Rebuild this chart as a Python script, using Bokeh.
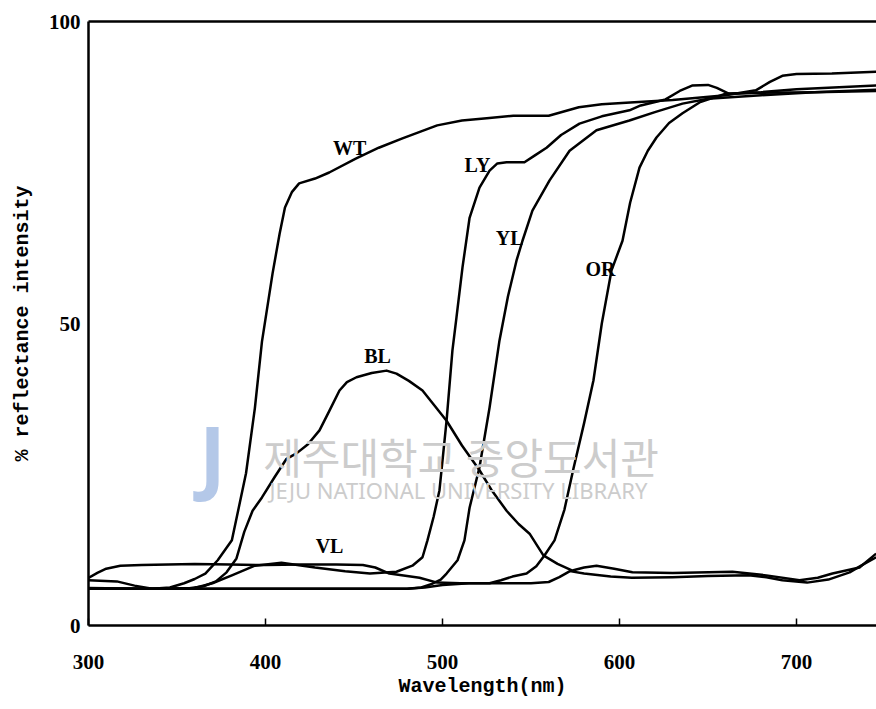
from bokeh.plotting import figure
from bokeh.models import Range1d, LinearAxis, FixedTicker, Label
from bokeh.embed import file_html
from bokeh.resources import INLINE
from bokeh.core.properties import value

# ---- data ----
wt_x = [300, 316, 326, 336, 346, 354, 360, 366, 373, 381, 389, 394, 398, 404, 408, 411, 415, 419,
        428, 436, 451, 464, 477, 497, 511, 525, 540, 560, 577, 590, 606, 630, 660, 677, 685, 692,
        700, 720, 745]
wt_y = [7.5, 7.3, 6.6, 6.1, 6.3, 7.0, 7.7, 8.6, 10.8, 14.1, 25.2, 36.0, 47.0, 58.3, 64.9, 69.2, 71.8, 73.2,
        74.0, 75.0, 77.3, 79.1, 80.6, 82.8, 83.6, 84.0, 84.4, 84.4, 85.8, 86.3, 86.6, 87.0, 87.8, 88.6, 90.0, 91.0,
        91.3, 91.4, 91.7]

bl_x = [300, 330, 355, 365, 372, 378, 383.6, 388, 392.7, 398, 405, 411.9, 417.5, 424, 430.5, 436,
        441.8, 446, 451.4, 460, 468.4, 474, 481, 488.7, 495, 502.3, 511, 520.9, 528, 536.2, 543,
        549.2, 557, 565, 573.4, 580, 587, 597, 607.3, 630, 663.8, 683, 701.7, 712, 720.3, 735.6, 745]
bl_y = [6.2, 6.1, 6.1, 6.5, 7.3, 8.8, 11.1, 15.5, 19.0, 21.2, 24.5, 27.6, 28.5, 30.0, 32.3, 35.5,
        38.9, 40.3, 41.1, 41.8, 42.2, 41.7, 40.5, 38.9, 36.6, 33.9, 29.8, 25.7, 22.3, 19.0, 16.8,
        15.2, 11.6, 10.2, 9.1, 9.6, 9.9, 9.4, 8.8, 8.7, 8.9, 8.3, 7.5, 7.9, 8.6, 9.6, 11.9]

vl_x = [300, 305, 310, 318, 330, 345, 360, 380, 400, 420, 440, 455, 462, 470, 480, 487, 497, 510,
        530, 550, 560, 566, 572, 580, 595, 607, 630, 650, 673, 683, 692, 706, 718, 730, 737, 745]
vl_y = [7.9, 8.7, 9.4, 9.9, 10.0, 10.1, 10.2, 10.1, 10.0, 10.1, 10.1, 10.0, 9.6, 8.6, 8.2, 7.9, 7.1, 7.0,
        7.0, 7.0, 7.2, 8.0, 9.0, 8.6, 8.1, 7.9, 8.0, 8.2, 8.3, 8.0, 7.5, 7.1, 7.6, 8.8, 10.0, 11.3]

ly_x = [300, 340, 360, 370, 381, 394, 409, 428, 445, 459, 474, 483, 488.7, 491.5, 495, 498.3, 502.3,
        505.6, 507.9, 511.3, 515.3, 520.9, 526.6, 531, 536.2, 546.3, 552, 558.8, 567, 577.4, 590,
        605.6, 612, 626, 634, 641, 650, 655, 662, 680, 700, 745]
ly_y = [6.1, 6.1, 6.2, 7.0, 8.3, 9.9, 10.4, 9.6, 9.0, 8.6, 8.9, 9.9, 11.3, 14.1, 18.0, 22.4, 33.9,
        45.5, 51.0, 59.3, 67.5, 72.5, 75.3, 76.5, 76.7, 76.7, 77.8, 79.1, 81.2, 83.1, 84.3,
        85.3, 86.1, 87.1, 88.5, 89.4, 89.5, 89.0, 88.0, 88.3, 88.8, 89.4]

yl_x = [300, 340, 400, 450, 480, 488, 494, 499, 502.3, 508.5, 512.4, 515.3, 520.9, 526.6, 532.2,
        537, 541.8, 545.2, 550.8, 560.5, 571.8, 587, 605.6, 620, 635.6, 650, 680, 710, 745]
yl_y = [6.1, 6.1, 6.1, 6.1, 6.1, 6.3, 6.9, 7.6, 8.6, 10.8, 14.1, 19.5, 26.2, 36.1, 47.2,
        54.5, 60.4, 63.7, 68.7, 73.7, 78.6, 82.0, 83.6, 85.0, 86.4, 87.2, 87.8, 88.3, 88.7]

or_x = [300, 400, 480, 490, 500, 515, 526.6, 533, 539.5, 547.5, 553, 557.6, 563.3, 568.9, 574, 580,
        585.3, 590, 595.5, 601.7, 606, 611.3, 616, 620.9, 628, 635.6, 645.2, 660.5, 680, 710, 745]
or_y = [6.1, 6.1, 6.1, 6.3, 6.7, 7.0, 7.0, 7.5, 8.1, 8.6, 9.8, 11.6, 14.1, 19.2, 26.0, 33.5,
        40.6, 50.0, 58.8, 63.7, 70.0, 75.8, 78.6, 80.8, 83.2, 84.8, 86.6, 88.1, 88.2, 88.3, 88.5]

curve_names = ["WT", "LY", "YL", "OR", "BL", "VL"]
name_x = [447.5, 519.8, 537.9, 589.3, 463.3, 436.2]
name_y = [79.1, 76.2, 64.2, 59.1, 44.7, 13.2]

x_ticks = [300, 400, 500, 600, 700]
y_ticks = [0, 50, 100]

# ---- figure ----
p = figure(width=876, height=709,
           x_range=Range1d(300, 745.2), y_range=Range1d(0, 100),
           output_backend="svg", toolbar_location=None,
           min_border_left=88, min_border_right=0,
           min_border_top=21, min_border_bottom=84)
p.outline_line_color = None
p.xgrid.visible = False
p.ygrid.visible = False
p.background_fill_color = "white"

tick_font = "Liberation Serif"
mono = "Liberation Mono"

xa = p.xaxis[0]
xa.ticker = FixedTicker(ticks=x_ticks)
xa.major_tick_in = 7
xa.major_tick_out = 0
xa.minor_tick_in = 0
xa.minor_tick_out = 0
xa.axis_line_width = 2.5
xa.major_tick_line_width = 1.5
xa.major_label_text_font = tick_font
xa.major_label_text_font_style = "bold"
xa.major_label_text_font_size = "21px"
xa.major_label_text_color = "black"
xa.major_label_standoff = 29
xa.axis_label = "Wavelength(nm)"
xa.axis_label_text_font = mono
xa.axis_label_text_font_style = "bold"
xa.axis_label_text_font_size = "20px"
xa.axis_label_text_color = "black"
xa.axis_label_standoff = 3

ya = p.yaxis[0]
ya.ticker = FixedTicker(ticks=y_ticks)
ya.major_tick_in = 0
ya.major_tick_out = 0
ya.minor_tick_in = 0
ya.minor_tick_out = 0
ya.axis_line_width = 2.5
ya.major_label_text_font = tick_font
ya.major_label_text_font_style = "bold"
ya.major_label_text_font_size = "21px"
ya.major_label_text_color = "black"
ya.major_label_standoff = 8
ya.axis_label = "% reflectance intensity"
ya.axis_label_text_font = mono
ya.axis_label_text_font_style = "bold"
ya.axis_label_text_font_size = "20px"
ya.axis_label_text_color = "black"
ya.axis_label_standoff = 12

top = LinearAxis(ticker=FixedTicker(ticks=[]), major_label_text_font_size="0px",
                 major_tick_in=0, major_tick_out=0, minor_tick_in=0, minor_tick_out=0,
                 axis_line_width=2.5)
p.add_layout(top, "above")

# watermark
p.add_layout(Label(x=370, y=28.5, text="J", text_font="Noto Sans", text_font_style="bold",
                   text_font_size="80px", text_color="#b4c8e8", text_align="center",
                   text_baseline="middle"))
p.add_layout(Label(x=510.5, y=28.1, text="제주대학교 중앙도서관", text_font="Noto Sans CJK KR",
                   text_font_size="42px", text_color="#cccccc", text_align="center",
                   text_baseline="middle"))
p.add_layout(Label(x=509, y=22.4, text="JEJU NATIONAL UNIVERSITY LIBRARY", text_font="Noto Sans",
                   text_font_size="22px", text_color="#cccccc", text_align="center",
                   text_baseline="middle"))

for xs, ys in [(wt_x, wt_y), (bl_x, bl_y), (vl_x, vl_y), (ly_x, ly_y), (yl_x, yl_y), (or_x, or_y)]:
    p.line(xs, ys, line_color="black", line_width=2.5, line_join="round")

p.text(x=name_x, y=name_y, text=curve_names, text_font=value(tick_font), text_font_style="bold",
       text_font_size="20px", text_color="black", text_align="center", text_baseline="middle")

open("out.html", "w").write(file_html(p, INLINE))
